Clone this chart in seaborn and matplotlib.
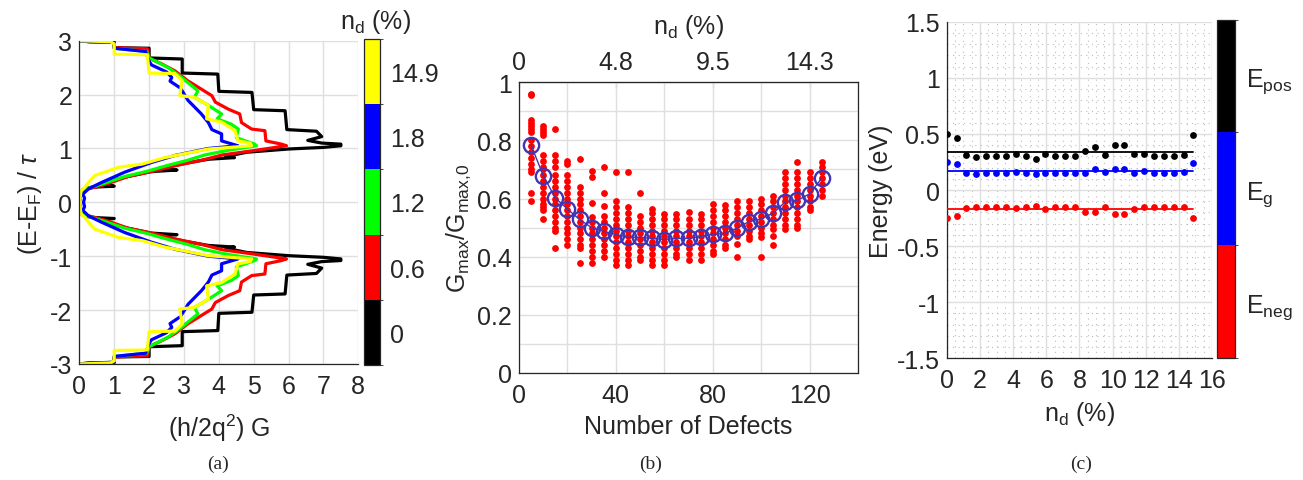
import numpy as np
import pandas as pd
import matplotlib
matplotlib.use("Agg")
import matplotlib.pyplot as plt
from matplotlib.colors import ListedColormap, BoundaryNorm
from matplotlib.cm import ScalarMappable
from matplotlib.ticker import MultipleLocator
import seaborn as sns

# ---------------- data: panel (a) upper half (E from 3 to 0) ----------------
black_E = [3.0, 2.99, 2.97, 2.87, 2.86, 2.68, 2.66, 2.40, 2.38, 2.06, 2.04, 1.72, 1.70, 1.35, 1.32,
           1.22, 1.15, 1.10, 1.08, 1.05, 1.02, 0.99, 0.93, 0.85, 0.83, 0.80, 0.72, 0.62, 0.60, 0.57,
           0.48, 0.40, 0.33, 0.30, 0.28, 0.24, 0.18, 0.0]
black_G = [0.0, 0.3, 1.0, 1.0, 2.0, 2.0, 2.95, 2.95, 3.97, 4.0, 4.95, 5.0, 5.9, 5.95, 6.8,
           6.95, 6.55, 6.95, 7.5, 7.5, 7.0, 6.0, 4.8, 4.2, 4.45, 3.7, 3.0, 2.3, 2.8, 2.05,
           1.4, 0.9, 0.55, 1.0, 0.35, 0.1, 0.02, 0.0]

red_E = [3.0, 2.98, 2.97, 2.87, 2.85, 2.68, 2.66, 2.57, 2.44, 2.26, 2.10, 1.98, 1.86, 1.73, 1.64,
         1.48, 1.36, 1.33, 1.14, 1.08, 1.05, 0.96, 0.88, 0.78, 0.68, 0.57, 0.48, 0.35, 0.28, 0.22,
         0.10, 0.0]
red_G = [0.0, 0.3, 1.0, 1.0, 1.95, 2.0, 2.05, 2.36, 2.74, 3.1, 3.5, 3.8, 3.9, 4.27, 4.6,
         4.65, 4.94, 5.32, 5.35, 5.8, 5.94, 5.0, 4.1, 3.5, 2.75, 2.07, 1.4, 0.83, 0.45, 0.07,
         0.02, 0.0]

green_E = [3.0, 2.98, 2.97, 2.86, 2.80, 2.68, 2.50, 2.32, 2.07, 1.95, 1.80, 1.64, 1.55, 1.45, 1.36,
           1.20, 1.08, 1.05, 0.97, 0.88, 0.78, 0.68, 0.57, 0.48, 0.36, 0.28, 0.22, 0.10, 0.0]
green_G = [0.0, 0.3, 1.0, 1.0, 1.93, 2.0, 2.55, 2.93, 3.4, 3.3, 3.7, 4.08, 3.95, 4.36, 4.56,
           4.5, 5.03, 5.08, 4.3, 3.6, 3.1, 2.5, 1.9, 1.3, 0.75, 0.35, 0.08, 0.03, 0.0]

blue_E = [3.0, 2.98, 2.97, 2.86, 2.80, 2.62, 2.55, 2.42, 2.32, 2.25, 2.12, 1.89, 1.64, 1.48, 1.35,
          1.27, 1.14, 1.05, 1.00, 0.87, 0.74, 0.56, 0.37, 0.25, 0.15, 0.08, 0.0]
blue_G = [0.0, 0.3, 1.0, 1.0, 1.9, 2.0, 2.07, 2.5, 2.65, 2.6, 2.9, 3.12, 3.5, 3.7, 3.8,
          4.08, 4.08, 4.55, 3.7, 2.74, 2.07, 1.3, 0.64, 0.26, 0.1, 0.15, 0.12]

yellow_E = [3.0, 2.98, 2.94, 2.75, 2.74, 2.40, 2.39, 2.26, 1.98, 1.95, 1.80, 1.55, 1.49, 1.33, 1.14,
            1.10, 1.05, 0.99, 0.83, 0.71, 0.65, 0.50, 0.40, 0.28, 0.22, 0.0]
yellow_G = [0.0, 0.9, 1.0, 1.0, 1.95, 2.0, 2.74, 2.95, 2.88, 3.3, 3.7, 3.65, 4.08, 4.46, 4.55,
            4.9, 4.94, 3.7, 2.45, 1.8, 1.12, 0.45, 0.3, 0.16, 0.05, 0.0]

a_labels = ["0", "0.6", "1.2", "1.8", "14.9"]
a_colors = ["#000000", "#ff0000", "#00ff00", "#0000ff", "#ffff00"]

# ---------------- data: panel (b) ----------------
b_defects = [5, 10, 15, 20, 25, 30, 35, 40, 45, 50, 55, 60, 65, 70, 75, 80, 85, 90, 95, 100,
             105, 110, 115, 120, 125]
b_samples = [
    [0.96, 0.955, 0.87, 0.86, 0.85, 0.84, 0.83, 0.80, 0.78, 0.76, 0.74, 0.72, 0.70, 0.69, 0.62, 0.59],
    [0.85, 0.84, 0.83, 0.82, 0.75, 0.73, 0.71, 0.70, 0.68, 0.66, 0.64, 0.62, 0.60, 0.58, 0.57, 0.56, 0.53],
    [0.84, 0.75, 0.73, 0.71, 0.68, 0.66, 0.64, 0.62, 0.60, 0.58, 0.56, 0.54, 0.52, 0.50, 0.49, 0.43],
    [0.73, 0.72, 0.68, 0.66, 0.64, 0.62, 0.60, 0.58, 0.56, 0.54, 0.52, 0.50, 0.48, 0.46, 0.44],
    [0.735, 0.64, 0.62, 0.60, 0.58, 0.56, 0.54, 0.52, 0.50, 0.48, 0.46, 0.44, 0.43, 0.38],
    [0.695, 0.673, 0.585, 0.535, 0.52, 0.50, 0.48, 0.46, 0.44, 0.42, 0.40, 0.38],
    [0.71, 0.62, 0.573, 0.54, 0.52, 0.50, 0.48, 0.46, 0.44, 0.42, 0.40],
    [0.69, 0.59, 0.57, 0.55, 0.53, 0.51, 0.49, 0.47, 0.45, 0.43, 0.41, 0.39, 0.37],
    [0.69, 0.57, 0.55, 0.53, 0.51, 0.49, 0.47, 0.45, 0.43, 0.41, 0.39, 0.37],
    [0.62, 0.54, 0.52, 0.50, 0.48, 0.46, 0.44, 0.42, 0.40, 0.39],
    [0.565, 0.55, 0.53, 0.51, 0.49, 0.47, 0.45, 0.43, 0.41, 0.39, 0.37],
    [0.547, 0.53, 0.51, 0.49, 0.47, 0.45, 0.43, 0.41, 0.39, 0.37],
    [0.547, 0.53, 0.51, 0.49, 0.47, 0.45, 0.43, 0.41, 0.40],
    [0.553, 0.53, 0.51, 0.49, 0.47, 0.45, 0.43, 0.41, 0.39],
    [0.547, 0.53, 0.51, 0.49, 0.47, 0.45, 0.43, 0.41, 0.39],
    [0.58, 0.56, 0.54, 0.52, 0.50, 0.48, 0.46, 0.44, 0.42, 0.41],
    [0.578, 0.56, 0.54, 0.52, 0.50, 0.48, 0.46, 0.44, 0.43],
    [0.59, 0.57, 0.55, 0.53, 0.51, 0.49, 0.47, 0.445, 0.40],
    [0.59, 0.57, 0.55, 0.53, 0.51, 0.49, 0.47, 0.46],
    [0.60, 0.58, 0.56, 0.54, 0.52, 0.50, 0.48, 0.467, 0.40],
    [0.61, 0.59, 0.57, 0.55, 0.53, 0.51, 0.495, 0.47, 0.44],
    [0.69, 0.67, 0.65, 0.63, 0.61, 0.59, 0.57, 0.55, 0.53, 0.51, 0.495],
    [0.725, 0.69, 0.67, 0.65, 0.63, 0.61, 0.59, 0.57, 0.55, 0.53, 0.51, 0.50],
    [0.69, 0.67, 0.65, 0.63, 0.61, 0.59, 0.57, 0.56],
    [0.725, 0.71, 0.69, 0.67, 0.65, 0.63, 0.61],
]
b_means = [0.784, 0.679, 0.602, 0.564, 0.528, 0.50, 0.487, 0.476, 0.467, 0.467, 0.463, 0.459,
           0.463, 0.463, 0.469, 0.477, 0.48, 0.498, 0.521, 0.53, 0.55, 0.589, 0.594, 0.616, 0.67]
b_top_ticks = [0, 40, 80, 120]
b_top_labels = ["0", "4.8", "9.5", "14.3"]

# ---------------- data: panel (c) ----------------
c_nd = [0.0, 0.6, 1.19, 1.79, 2.38, 2.98, 3.57, 4.17, 4.76, 5.36, 5.95, 6.55, 7.14, 7.74,
        8.33, 8.93, 9.52, 10.12, 10.71, 11.31, 11.9, 12.5, 13.1, 13.69, 14.29, 14.88]
c_pos = [0.50, 0.46, 0.315, 0.29, 0.30, 0.30, 0.30, 0.32, 0.30, 0.28, 0.32, 0.30, 0.30, 0.30,
         0.35, 0.38, 0.315, 0.40, 0.40, 0.32, 0.32, 0.30, 0.30, 0.30, 0.315, 0.49]
c_g = [0.25, 0.235, 0.15, 0.14, 0.15, 0.15, 0.15, 0.16, 0.15, 0.14, 0.15, 0.15, 0.15, 0.15,
       0.15, 0.185, 0.16, 0.19, 0.19, 0.15, 0.17, 0.15, 0.15, 0.15, 0.16, 0.245]
c_neg = [-0.25, -0.23, -0.16, -0.15, -0.15, -0.15, -0.15, -0.16, -0.15, -0.14, -0.17, -0.15,
         -0.15, -0.15, -0.20, -0.20, -0.15, -0.21, -0.21, -0.17, -0.15, -0.15, -0.15, -0.15,
         -0.15, -0.25]
c_mean_pos = 0.34
c_mean_g = 0.165
c_mean_neg = -0.17
c_labels = [r"$E_{neg}$", r"$E_g$", r"$E_{pos}$"]

# ---------------- style ----------------
sns.set_style("white")
plt.rcParams["font.family"] = ["Liberation Sans", "DejaVu Sans"]
plt.rcParams["mathtext.fontset"] = "custom"
plt.rcParams["mathtext.rm"] = "Liberation Sans"
plt.rcParams["mathtext.it"] = "Liberation Sans:italic"
plt.rcParams["mathtext.default"] = "regular"
plt.rcParams["axes.unicode_minus"] = False
FS = 18
SPINE = "#262626"
GRID = "#dfdfdf"

fig = plt.figure(figsize=(13.03, 4.81), dpi=100)

def base_style(ax):
    ax.tick_params(direction="in", length=4, width=0.8, colors=SPINE, labelsize=FS)
    ax.tick_params(axis="x", pad=7)
    ax.tick_params(axis="y", pad=5)
    for s in ax.spines.values():
        s.set_color(SPINE)
        s.set_linewidth(0.9)

# ================= panel (a) =================
ax_a = fig.add_axes([0.0609, 0.2412, 0.2141, 0.6721])
rows = []
curves = [(black_E, black_G), (red_E, red_G), (green_E, green_G), (blue_E, blue_G), (yellow_E, yellow_G)]
for lab, (E, G) in zip(a_labels, curves):
    E = np.asarray(E); G = np.asarray(G)
    E_full = np.concatenate([E, -E[::-1][1:]])
    G_full = np.concatenate([G, G[::-1][1:]])
    for i, (e, g) in enumerate(zip(E_full, G_full)):
        rows.append({"nd": lab, "E": e, "G": g, "i": i})
df_a = pd.DataFrame(rows)
for lab, col in zip(a_labels, a_colors):
    sns.lineplot(data=df_a[df_a["nd"] == lab], x="G", y="E", sort=False, estimator=None,
                 color=col, lw=2.3, ax=ax_a, legend=False)
ax_a.set_xlim(0, 8)
ax_a.set_ylim(-3, 3)
ax_a.xaxis.set_major_locator(MultipleLocator(1))
ax_a.yaxis.set_major_locator(MultipleLocator(1))
ax_a.grid(True, color=GRID, lw=1.0)
ax_a.set_axisbelow(True)
base_style(ax_a)
ax_a.spines["top"].set_visible(False)
ax_a.spines["right"].set_visible(False)
ax_a.set_xlabel(r"(h/2q$^2$) G", fontsize=FS, labelpad=10)
ax_a.set_ylabel(r"(E-E$_F$) / $\mathit{\tau}$", fontsize=FS, labelpad=4)

cax_a = fig.add_axes([0.2796, 0.239, 0.0123, 0.678])
cmap_a = ListedColormap(a_colors)
norm_a = BoundaryNorm(np.arange(len(a_colors) + 1), cmap_a.N)
cb_a = fig.colorbar(ScalarMappable(norm=norm_a, cmap=cmap_a), cax=cax_a)
cb_a.set_ticks(np.arange(len(a_colors)) + 0.5)
cb_a.set_ticklabels(a_labels)
cb_a.ax.tick_params(direction="in", length=3, labelsize=FS, colors=SPINE, pad=7)
cb_a.outline.set_edgecolor(SPINE)
cb_a.outline.set_linewidth(0.9)
fig.text(0.288, 0.955, r"$n_d$ (%)", fontsize=FS, ha="center", va="center", color=SPINE)

# ================= panel (b) =================
ax_b = fig.add_axes([0.3983, 0.2225, 0.2602, 0.6044])
rows = []
for d, vals in zip(b_defects, b_samples):
    for v in vals:
        rows.append({"defects": d, "ratio": v})
df_b = pd.DataFrame(rows)
sns.scatterplot(data=df_b, x="defects", y="ratio", color="#ff0000", s=24, linewidth=0,
                ax=ax_b, zorder=3)
df_bm = pd.DataFrame({"defects": b_defects, "mean": b_means})
sns.lineplot(data=df_bm, x="defects", y="mean", color="#3f35b5", lw=1.0, marker="o",
             markersize=11, markerfacecolor="none", markeredgecolor="#3f35b5",
             markeredgewidth=1.7, ax=ax_b, zorder=4)
ax_b.set_xlim(0, 140)
ax_b.set_ylim(0, 1)
ax_b.set_xticks([0, 40, 80, 120])
ax_b.set_xticks(np.arange(0, 141, 20), minor=True)
ax_b.set_yticks([0, 0.2, 0.4, 0.6, 0.8, 1.0])
ax_b.set_yticklabels(["0", "0.2", "0.4", "0.6", "0.8", "1"])
ax_b.set_yticks(np.arange(0, 1.01, 0.1), minor=True)
ax_b.grid(True, which="both", color=GRID, lw=1.0)
ax_b.set_axisbelow(True)
base_style(ax_b)
ax_b.tick_params(which="minor", direction="in", length=2.5, colors=SPINE)
ax_b.set_xlabel("Number of Defects", fontsize=FS, labelpad=5)
ax_b.set_ylabel(r"$G_{max}/G_{max{,}0}$", fontsize=FS, labelpad=3)
ax_top = ax_b.secondary_xaxis("top")
ax_top.set_xticks(b_top_ticks)
ax_top.set_xticklabels(b_top_labels)
ax_top.tick_params(direction="in", length=4, width=0.8, colors=SPINE, labelsize=FS, pad=6)
ax_top.set_xlabel(r"$n_d$ (%)", fontsize=FS, labelpad=12)

# ================= panel (c) =================
ax_c = fig.add_axes([0.7266, 0.253, 0.2036, 0.6998])
df_c = pd.DataFrame({"nd": c_nd, "pos": c_pos, "g": c_g, "neg": c_neg})
for col, mean, color in [("pos", c_mean_pos, "#000000"), ("g", c_mean_g, "#0000ff"),
                         ("neg", c_mean_neg, "#ff0000")]:
    sns.lineplot(x=[c_nd[0], c_nd[-1]], y=[mean, mean], color=color, lw=1.3, ax=ax_c, zorder=3)
    sns.scatterplot(data=df_c, x="nd", y=col, color=color, s=24, linewidth=0, ax=ax_c, zorder=4)
ax_c.set_xlim(0, 16)
ax_c.set_ylim(-1.5, 1.5)
ax_c.set_xticks(np.arange(0, 17, 2))
ax_c.set_xticks(np.arange(0, 16.01, 0.5), minor=True)
ax_c.set_yticks([-1.5, -1, -0.5, 0, 0.5, 1, 1.5])
ax_c.set_yticklabels(["-1.5", "-1", "-0.5", "0", "0.5", "1", "1.5"])
ax_c.set_yticks(np.arange(-1.5, 1.501, 0.1), minor=True)
ax_c.grid(True, which="major", color=GRID, lw=1.0)
ax_c.grid(True, which="minor", color="#bdbdbd", lw=0.8, ls=(0, (1, 4)))
ax_c.set_axisbelow(True)
base_style(ax_c)
ax_c.tick_params(which="minor", length=0)
ax_c.spines["top"].set_visible(False)
ax_c.spines["right"].set_visible(False)
ax_c.set_xlabel(r"$n_d$ (%)", fontsize=FS, labelpad=5)
ax_c.set_ylabel("Energy (eV)", fontsize=FS, labelpad=3)

cax_c = fig.add_axes([0.934, 0.2536, 0.0138, 0.7033])
cmap_c = ListedColormap(["#ff0000", "#0000ff", "#000000"])
norm_c = BoundaryNorm(np.arange(4), cmap_c.N)
cb_c = fig.colorbar(ScalarMappable(norm=norm_c, cmap=cmap_c), cax=cax_c)
cb_c.set_ticks(np.arange(3) + 0.5)
cb_c.set_ticklabels(c_labels)
cb_c.ax.tick_params(direction="in", length=0, labelsize=FS, colors=SPINE, pad=8)
cb_c.outline.set_edgecolor(SPINE)
cb_c.outline.set_linewidth(0.9)

# captions
for xc, t in [(0.167, "(a)"), (0.499, "(b)"), (0.830, "(c)")]:
    fig.text(xc, 0.035, t, fontsize=14, family="Liberation Serif", ha="center", va="center")

fig.savefig("out.png", dpi=100)
